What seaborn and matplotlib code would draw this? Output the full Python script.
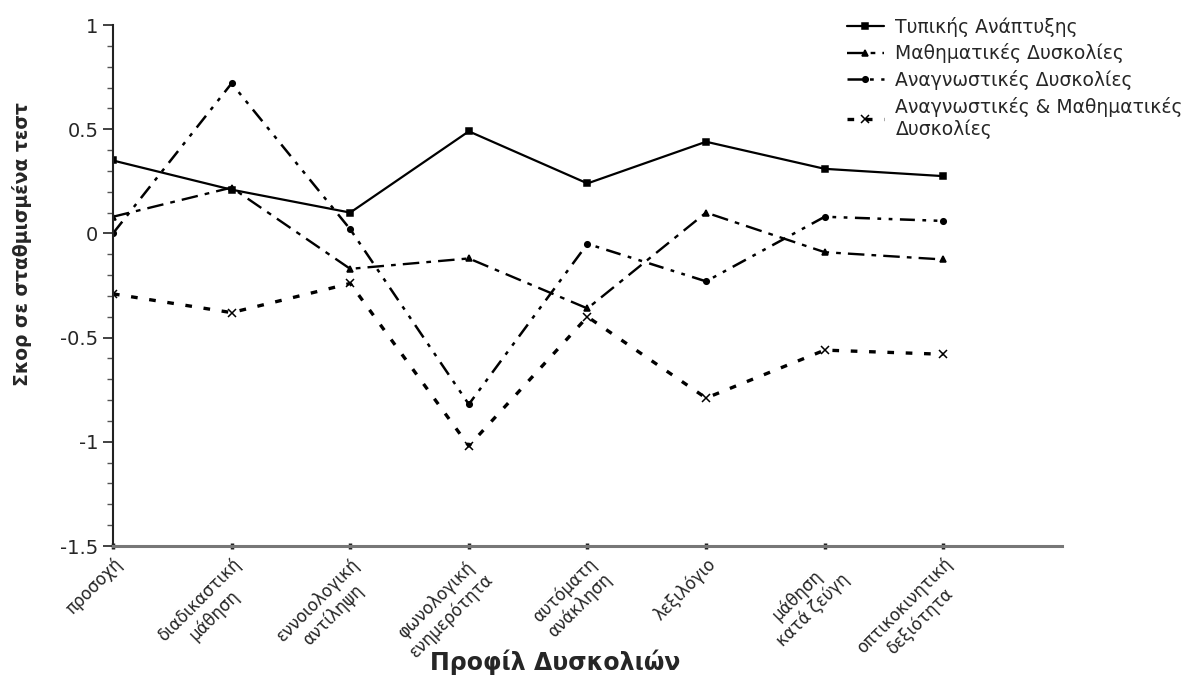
import pandas as pd
import numpy as np
import matplotlib
matplotlib.use("Agg")
import matplotlib.pyplot as plt
import seaborn as sns
from matplotlib.ticker import MultipleLocator

sns.set_style("ticks")
plt.rcParams['font.family'] = ['DejaVu Sans']

# Data
categories = ['προσοχή', 'διαδικαστική\nμάθηση', 'εννοιολογική\nαντίληψη',
              'φωνολογική\nενημερότητα', 'αυτόματη\nανάκληση', 'λεξιλόγιο',
              'μάθηση\nκατά ζεύγη', 'οπτικοκινητική\nδεξιότητα']

typical = [0.35, 0.21, 0.10, 0.49, 0.24, 0.44, 0.31, 0.275]
math_dif = [0.08, 0.22, -0.17, -0.12, -0.36, 0.10, -0.09, -0.125]
reading_dif = [0.0, 0.72, 0.02, -0.82, -0.05, -0.23, 0.08, 0.06]
both_dif = [-0.29, -0.38, -0.24, -1.02, -0.40, -0.79, -0.56, -0.58]

groups = ['Τυπικής Ανάπτυξης', 'Μαθηματικές Δυσκολίες',
          'Αναγνωστικές Δυσκολίες', 'Αναγνωστικές & Μαθηματικές\nΔυσκολίες']
series = [typical, math_dif, reading_dif, both_dif]

df = pd.DataFrame({
    'pos': np.tile(np.arange(len(categories)), len(groups)),
    'score': np.concatenate(series),
    'group': np.repeat(groups, len(categories)),
})

# styles per group
line_styles = {
    groups[0]: '-',
    groups[1]: (0, (7, 3, 2, 3)),
    groups[2]: (0, (6, 3, 1.5, 3, 1.5, 3)),
    groups[3]: (0, (2, 3.5)),
}
marker_styles = {groups[0]: 's', groups[1]: '^', groups[2]: 'o', groups[3]: 'x'}
line_widths = {groups[0]: 1.6, groups[1]: 1.7, groups[2]: 1.8, groups[3]: 2.4}

fig = plt.figure(figsize=(11.94, 6.77), dpi=100)
ax = fig.add_axes([0.0946, 0.1935, 0.7948, 0.7695])

for g in groups:
    sub = df[df['group'] == g]
    sns.lineplot(data=sub, x='pos', y='score', ax=ax, color='black',
                 linestyle=line_styles[g], linewidth=line_widths[g],
                 marker=marker_styles[g], markersize=4 if g != groups[3] else 6,
                 markeredgewidth=1.1, markeredgecolor='black',
                 markerfacecolor='black', label=g)

ax.set_xlim(0, 8)
ax.set_ylim(-1.5, 1)
ax.set_xticks(np.arange(len(categories)))
ax.set_xticklabels(categories, rotation=45, ha='right', rotation_mode='anchor',
                   fontsize=12, multialignment='center')
yticks = [1, 0.5, 0, -0.5, -1, -1.5]
ax.set_yticks(yticks, labels=['1', '0.5', '0', '-0.5', '-1', '-1.5'], fontsize=14)
ax.yaxis.set_minor_locator(MultipleLocator(0.1))
ax.tick_params(axis='y', which='major', length=7, width=1.3, color='#333333')
ax.tick_params(axis='y', which='minor', length=4, width=1.0, color='#555555')
ax.tick_params(axis='x', which='major', length=5, width=2.5, direction='inout',
               color='#222222', pad=4)

sns.despine(ax=ax)
ax.spines['left'].set_linewidth(1.5)
ax.spines['left'].set_color('#222222')
ax.spines['bottom'].set_linewidth(2.2)
ax.spines['bottom'].set_color('#777777')

ax.set_ylabel('Σκορ σε σταθμισμένα τεστ', fontsize=13.5, fontweight='bold')
ax.yaxis.set_label_coords(-0.085, 0.58)
ax.set_xlabel('Προφίλ Δυσκολιών', fontsize=17, fontweight='bold')
ax.xaxis.set_label_coords(0.466, -0.198)

ax.legend(loc='upper left', bbox_to_anchor=(0.695, 1.0), bbox_transform=fig.transFigure,
          frameon=False, fontsize=13.5, handlelength=2.0, handletextpad=0.6,
          labelspacing=0.35)

fig.savefig('out.png', dpi=100)
